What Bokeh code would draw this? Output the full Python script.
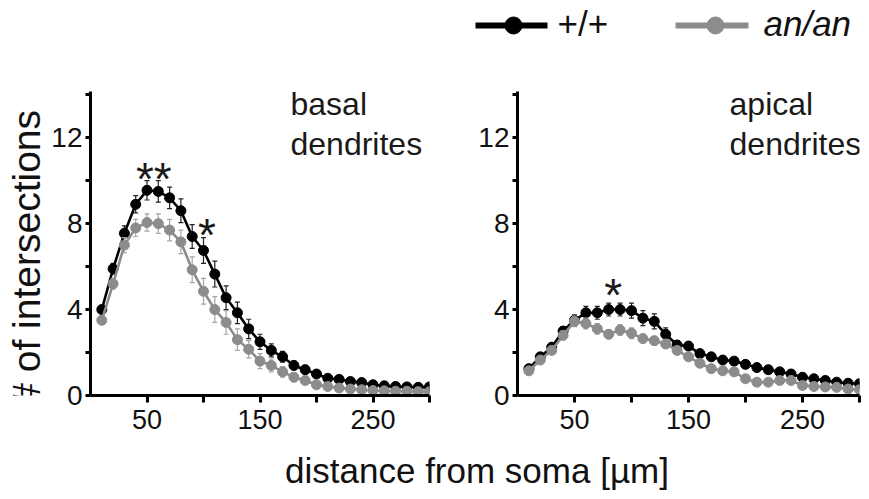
from bokeh.plotting import figure
from bokeh.layouts import column, row
from bokeh.models import Range1d, FixedTicker
from bokeh.core.properties import value
from bokeh.embed import file_html
from bokeh.resources import INLINE

FONT = "Liberation Sans"

# ---------------- data ----------------
distance = list(range(10, 301, 10))

basal_wt = [4.0, 5.9, 7.55, 8.9, 9.55, 9.5, 9.2, 8.6, 7.4, 6.75,
            5.65, 4.55, 3.85, 3.1, 2.5, 2.1, 1.8, 1.4, 1.2, 1.0,
            0.8, 0.75, 0.65, 0.6, 0.5, 0.45, 0.42, 0.4, 0.38, 0.4]
basal_wt_err = [0.15, 0.25, 0.35, 0.4, 0.45, 0.5, 0.5, 0.55, 0.55, 0.6,
                0.6, 0.55, 0.5, 0.45, 0.35, 0.3, 0.25, 0.2, 0.2, 0.15,
                0.12, 0.12, 0.1, 0.1, 0.1, 0.08, 0.08, 0.08, 0.08, 0.08]
basal_an = [3.5, 5.2, 7.0, 7.8, 8.05, 8.0, 7.7, 7.15, 5.85, 4.85,
            4.0, 3.4, 2.6, 2.15, 1.6, 1.4, 1.1, 0.85, 0.7, 0.5,
            0.42, 0.35, 0.3, 0.27, 0.23, 0.22, 0.2, 0.2, 0.18, 0.18]
basal_an_err = [0.15, 0.25, 0.35, 0.4, 0.4, 0.45, 0.5, 0.55, 0.6, 0.6,
                0.6, 0.55, 0.5, 0.4, 0.35, 0.3, 0.25, 0.2, 0.15, 0.12,
                0.1, 0.1, 0.08, 0.08, 0.08, 0.06, 0.06, 0.06, 0.06, 0.06]

apical_wt = [1.25, 1.8, 2.25, 3.0, 3.5, 3.85, 3.85, 4.0, 4.0, 3.95,
             3.6, 3.45, 2.85, 2.35, 2.3, 1.95, 1.8, 1.65, 1.6, 1.45,
             1.3, 1.2, 1.1, 1.0, 0.85, 0.78, 0.7, 0.62, 0.57, 0.55]
apical_wt_err = [0.1, 0.15, 0.15, 0.2, 0.25, 0.3, 0.3, 0.3, 0.3, 0.35,
                 0.35, 0.35, 0.3, 0.2, 0.2, 0.15, 0.15, 0.12, 0.12, 0.12,
                 0.1, 0.1, 0.1, 0.1, 0.1, 0.08, 0.08, 0.08, 0.08, 0.08]
apical_an = [1.15, 1.65, 2.1, 2.8, 3.45, 3.35, 3.1, 2.85, 3.05, 2.9,
             2.65, 2.55, 2.4, 2.1, 1.8, 1.5, 1.25, 1.15, 1.1, 0.78,
             0.62, 0.62, 0.7, 0.7, 0.47, 0.42, 0.4, 0.38, 0.3, 0.27]
apical_an_err = [0.1, 0.15, 0.15, 0.2, 0.25, 0.25, 0.25, 0.2, 0.25, 0.25,
                 0.2, 0.2, 0.2, 0.15, 0.15, 0.12, 0.12, 0.1, 0.1, 0.1,
                 0.08, 0.08, 0.08, 0.08, 0.08, 0.06, 0.06, 0.06, 0.06, 0.06]

y_ticks = [0, 2, 4, 6, 8, 10, 12, 14]
y_tick_labels = {0: "0", 2: "", 4: "4", 6: "", 8: "8", 10: "", 12: "12", 14: ""}
x_ticks = [50, 100, 150, 200, 250, 300]
x_tick_labels = {50: "50", 100: "", 150: "150", 200: "", 250: "250", 300: ""}

series_labels = ["+/+", "an/an"]
series_colors = ["#000000", "#8c8c8c"]
err_colors = ["#222222", "#a6a6a6"]

basal_stars = [("**", 56, 10.1), ("*", 103, 7.45)]
apical_stars = [("*", 84, 4.7)]

# ---------------- panels ----------------
ROW_H = 383


def panel(width, border_left, border_right, wt, wt_err, an, an_err, title_x, lines, stars):
    p = figure(width=width, height=ROW_H, output_backend="svg", toolbar_location=None,
               x_range=Range1d(0, 300), y_range=Range1d(0, 14.15),
               min_border_left=border_left, min_border_right=border_right,
               min_border_top=31, min_border_bottom=48)
    p.outline_line_color = None
    p.grid.visible = False
    p.background_fill_color = "white"
    p.border_fill_color = "white"

    for ax, ticks, labels in ((p.xaxis, x_ticks, x_tick_labels), (p.yaxis, y_ticks, y_tick_labels)):
        ax.ticker = FixedTicker(ticks=ticks)
        ax.major_label_overrides = labels
        ax.minor_tick_line_color = None
        ax.axis_line_width = 3
        ax.axis_line_color = "black"
        ax.major_tick_line_width = 3
        ax.major_tick_line_color = "black"
        ax.major_tick_in = 0
        ax.major_label_text_font = FONT
        ax.major_label_text_color = "#111111"
    p.xaxis.major_tick_out = 7
    p.xaxis.major_label_standoff = 7
    p.xaxis.major_label_text_font_size = "27px"
    p.yaxis.major_tick_out = 5
    p.yaxis.major_label_standoff = 3
    p.yaxis.major_label_text_font_size = "28px"

    for vals, errs, col, ecol in ((wt, wt_err, series_colors[0], err_colors[0]),
                                  (an, an_err, series_colors[1], err_colors[1])):
        lo = [v - e for v, e in zip(vals, errs)]
        hi = [v + e for v, e in zip(vals, errs)]
        p.segment(x0=distance, y0=lo, x1=distance, y1=hi, line_color=ecol, line_width=1.2)
        p.scatter(x=distance, y=lo, marker="dash", size=5, line_color=ecol, line_width=1.2)
        p.scatter(x=distance, y=hi, marker="dash", size=5, line_color=ecol, line_width=1.2)
        p.line(x=distance, y=vals, line_color=col, line_width=2.6)
        p.scatter(x=distance, y=vals, size=10, fill_color=col, line_color=col)

    p.text(x=[title_x, title_x], y=[13.55, 11.7], text=lines,
           text_font=value(FONT), text_font_size="32px", text_color="#1a1a1a",
           text_baseline="alphabetic", text_align="left")
    p.text(x=[s[1] for s in stars], y=[s[2] for s in stars], text=[s[0] for s in stars],
           text_font=value(FONT), text_font_size="46px", text_color="#1a1a1a",
           text_baseline="alphabetic", text_align="center")
    return p


left = panel(422, 42, 41, basal_wt, basal_wt_err, basal_an, basal_an_err,
             177, ["basal", "dendrites"], basal_stars)
right = panel(391, 47, 2, apical_wt, apical_wt_err, apical_an, apical_an_err,
              186, ["apical", "dendrites"], apical_stars)


def blank(width, height):
    f = figure(width=width, height=height, output_backend="svg", toolbar_location=None,
               x_range=Range1d(0, width), y_range=Range1d(height, 0),
               x_axis_location=None, y_axis_location=None,
               min_border=0, min_border_left=0, min_border_right=0,
               min_border_top=0, min_border_bottom=0)
    f.outline_line_color = None
    f.grid.visible = False
    f.border_fill_color = "white"
    f.background_fill_color = "white"
    return f


# y label
ylab = blank(48, ROW_H)
ylab.text(x=[26], y=[209], text=["# of intersections"], angle=1.5707963,
          text_font=value(FONT), text_font_size="39px", text_color="#111111",
          text_align="center", text_baseline="middle")

# legend
leg = blank(861, 60)
leg_line_x0 = [475, 675]
leg_line_x1 = [547, 748]
leg_marker_x = [513, 715]
leg_text_x = [557, 763]
leg.segment(x0=leg_line_x0, y0=[25, 25], x1=leg_line_x1, y1=[25, 25],
            line_color=series_colors, line_width=6)
leg.scatter(x=leg_marker_x, y=[25, 25], size=17, fill_color=series_colors, line_color=series_colors)
leg.text(x=[leg_text_x[0]], y=[23], text=[series_labels[0]], text_font=value(FONT),
         text_font_size="35px", text_color="#111111", text_baseline="middle")
leg.text(x=[leg_text_x[1]], y=[23], text=[series_labels[1]], text_font=value(FONT),
         text_font_size="35px", text_font_style="italic", text_color="#111111",
         text_baseline="middle")

# x label
xlab = blank(861, 52)
xlab.text(x=[476.5], y=[27], text=["distance from soma [µm]"], text_font=value(FONT),
          text_font_size="35px", text_color="#111111", text_align="center",
          text_baseline="alphabetic")

layout = column(leg, row(ylab, left, right), xlab)
open("out.html", "w").write(file_html(layout, INLINE))
